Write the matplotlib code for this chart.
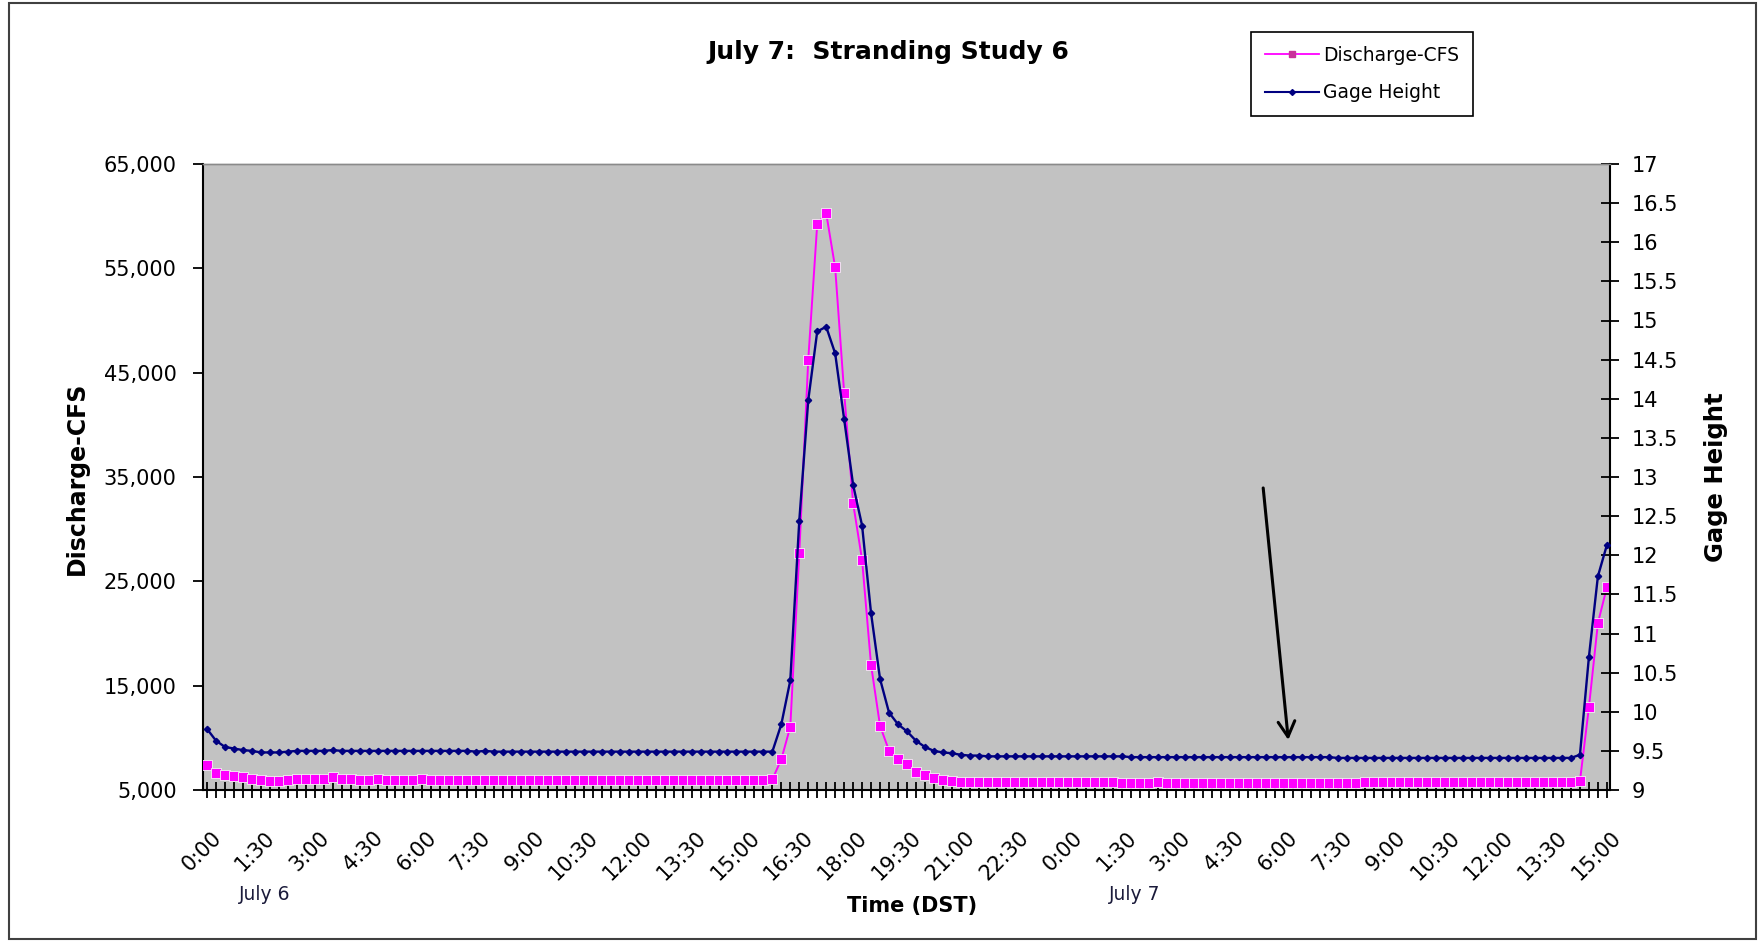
import matplotlib
matplotlib.use("Agg")
import matplotlib.pyplot as plt
import matplotlib.transforms as mtransforms
from matplotlib.lines import Line2D
from matplotlib.patches import Rectangle
from matplotlib.ticker import FuncFormatter
import numpy as np

plt.rcParams['font.family'] = ['DejaVu Sans']

# 15-minute readings, 0:00 July 6 through 15:00 July 7 (one row = 3 hours)
discharge_cfs = [
    7400, 6650, 6450, 6300, 6200, 6050, 5950, 5900, 5900, 6000, 6050, 6050,
    6050, 6050, 6250, 6050, 6050, 6000, 6000, 6050, 6000, 6000, 6000, 6000,
    6050, 6000, 6000, 6000, 6000, 6000, 6000, 6000, 5950, 5950, 6000, 6000,
    5950, 5950, 5950, 6000, 5950, 5950, 5950, 5950, 5950, 5950, 5950, 6000,
    5950, 5950, 5950, 5950, 5950, 5950, 5950, 5950, 5950, 5950, 5950, 5950,
    5950, 5950, 5950, 6020, 7940, 11070, 27690, 46230, 59240, 60290, 55080, 43090,
    32490, 27050, 16980, 11160, 8770, 7940, 7490, 6750, 6440, 6120, 5950, 5850,
    5800, 5750, 5750, 5750, 5750, 5750, 5750, 5750, 5750, 5750, 5750, 5750,
    5750, 5800, 5750, 5750, 5750, 5750, 5700, 5700, 5700, 5700, 5750, 5700,
    5700, 5700, 5700, 5700, 5700, 5700, 5700, 5700, 5700, 5700, 5700, 5700,
    5700, 5700, 5700, 5700, 5700, 5700, 5700, 5700, 5700, 5750, 5750, 5750,
    5750, 5750, 5750, 5750, 5750, 5750, 5750, 5750, 5750, 5750, 5750, 5750,
    5750, 5750, 5750, 5750, 5750, 5750, 5750, 5750, 5750, 5850, 12930, 20980,
    24430,
]

gage_height = [
    9.78, 9.63, 9.55, 9.53, 9.51, 9.50, 9.48, 9.48, 9.48, 9.49, 9.50, 9.50,
    9.50, 9.50, 9.51, 9.50, 9.50, 9.50, 9.50, 9.50, 9.50, 9.50, 9.50, 9.50,
    9.50, 9.50, 9.50, 9.50, 9.50, 9.50, 9.49, 9.50, 9.49, 9.49, 9.49, 9.49,
    9.49, 9.49, 9.49, 9.49, 9.49, 9.49, 9.49, 9.49, 9.49, 9.49, 9.49, 9.49,
    9.49, 9.49, 9.49, 9.49, 9.49, 9.49, 9.49, 9.49, 9.49, 9.49, 9.49, 9.49,
    9.49, 9.49, 9.49, 9.49, 9.84, 10.40, 12.44, 13.98, 14.86, 14.92, 14.58, 13.74,
    12.90, 12.38, 11.26, 10.42, 9.99, 9.84, 9.75, 9.63, 9.55, 9.50, 9.48, 9.47,
    9.45, 9.44, 9.44, 9.43, 9.43, 9.43, 9.43, 9.43, 9.43, 9.43, 9.43, 9.43,
    9.43, 9.43, 9.43, 9.43, 9.43, 9.43, 9.43, 9.42, 9.42, 9.42, 9.42, 9.42,
    9.42, 9.42, 9.42, 9.42, 9.42, 9.42, 9.42, 9.42, 9.42, 9.42, 9.42, 9.42,
    9.42, 9.42, 9.42, 9.42, 9.42, 9.42, 9.41, 9.41, 9.41, 9.41, 9.41, 9.41,
    9.41, 9.41, 9.41, 9.41, 9.41, 9.41, 9.41, 9.41, 9.41, 9.41, 9.41, 9.41,
    9.41, 9.41, 9.41, 9.41, 9.41, 9.41, 9.41, 9.41, 9.41, 9.45, 10.70, 11.73,
    12.13,
]

time_labels = [
    "0:00", "1:30", "3:00", "4:30", "6:00", "7:30", "9:00", "10:30", "12:00",
    "13:30", "15:00", "16:30", "18:00", "19:30", "21:00", "22:30",
    "0:00", "1:30", "3:00", "4:30", "6:00", "7:30", "9:00", "10:30", "12:00",
    "13:30", "15:00",
]
label_step = 6  # one label every 1.5 hours

cfs_ticks = [5000, 15000, 25000, 35000, 45000, 55000, 65000]
gage_ticks = [9, 9.5, 10, 10.5, 11, 11.5, 12, 12.5, 13, 13.5, 14, 14.5,
              15, 15.5, 16, 16.5, 17]

W, H = 1763, 944
fig = plt.figure(figsize=(W / 100, H / 100), dpi=100, facecolor='white')


def fx(px):
    return px / W


def fy(py):
    return 1 - py / H


ax = fig.add_axes([fx(203), fy(790), fx(1610) - fx(203), fy(164) - fy(790)])
ax.set_facecolor('#C2C2C2')

x = np.arange(len(discharge_cfs))
ax.plot(x, discharge_cfs, color='#FF00FF', lw=1.4, marker='s', ms=6.5,
        mfc='#FF00FF', mec='#F4F4F4', mew=0.6, zorder=3)
ax.set_xlim(-0.45, 156.35)
ax.set_ylim(cfs_ticks[0], cfs_ticks[-1])
ax.set_yticks(cfs_ticks)
ax.yaxis.set_major_formatter(FuncFormatter(lambda v, p: f'{int(v):,}'))

ax.set_xticks(x[::label_step])
ax.set_xticks(x, minor=True)
ax.set_xticklabels(time_labels, rotation=45, ha='right', va='top',
                   rotation_mode='anchor', fontsize=15)
ax.tick_params(axis='x', which='both', direction='inout', length=12,
               width=1.3, color='black', pad=21)
ax.tick_params(axis='y', direction='out', length=7, width=1.3,
               labelsize=15, pad=12)

ax2 = ax.twinx()
ax2.plot(x, gage_height, color='#000080', lw=1.7, marker='D', ms=3.2,
         mfc='#000080', mec='#000080', zorder=4)
ax2.set_ylim(gage_ticks[0], gage_ticks[-1])
ax2.set_yticks(gage_ticks)
ax2.yaxis.set_major_formatter(FuncFormatter(lambda v, p: f'{v:g}'))
ax2.tick_params(axis='y', direction='inout', length=13, width=1.3,
                labelsize=15, pad=9)

for a in (ax, ax2):
    a.spines['top'].set_color('#8A8A8A')
    a.spines['top'].set_linewidth(1.0)
ax.spines['left'].set_linewidth(1.5)
ax.spines['bottom'].set_linewidth(1.5)
ax.spines['right'].set_visible(False)
ax2.spines['left'].set_visible(False)
ax2.spines['bottom'].set_visible(False)
ax2.spines['right'].set_linewidth(1.5)

# nudge the slanted time labels to the right of their ticks
shift = mtransforms.ScaledTranslation(4 / 100, 0, fig.dpi_scale_trans)
for lbl in ax.get_xticklabels():
    lbl.set_transform(lbl.get_transform() + shift)

# arrow pointing at the stranding period
ax2.annotate('', xy=(120.5, 9.64), xytext=(117.7, 12.86),
             arrowprops=dict(arrowstyle='->,head_length=0.55,head_width=0.3',
                             lw=2.2, color='black', mutation_scale=20,
                             shrinkA=0, shrinkB=0), zorder=6)

fig.text(fx(888), fy(52), 'July 7:  Stranding Study 6', ha='center',
         va='center', fontsize=18, fontweight='bold')
fig.text(fx(77), fy(478), 'Discharge-CFS', rotation=90, ha='center',
         va='center', fontsize=17, fontweight='bold')
fig.text(fx(1716), fy(477), 'Gage Height', rotation=90, ha='center',
         va='center', fontsize=17.5, fontweight='bold')
fig.text(fx(912), fy(906), 'Time (DST)', ha='center', va='center',
         fontsize=15, fontweight='bold')
fig.text(fx(265), fy(895), 'July 6', ha='center', va='center',
         fontsize=13.5, color='#1a1a3a')
fig.text(fx(1135), fy(895), 'July 7', ha='center', va='center',
         fontsize=13.5, color='#1a1a3a')

handles = [
    Line2D([], [], color='#FF00FF', lw=1.3, marker='s', ms=5,
           mfc='#C8329A', mec='#C8329A'),
    Line2D([], [], color='#000080', lw=1.5, marker='D', ms=3,
           mfc='#000080', mec='#000080'),
]
leg = fig.legend(handles, ['Discharge-CFS', 'Gage Height'], loc='upper left',
                 bbox_to_anchor=(fx(1251), fy(31.5)), borderaxespad=0,
                 frameon=True, fancybox=False, edgecolor='black',
                 facecolor='white', fontsize=13.5, handlelength=2.9,
                 handletextpad=0.2, borderpad=0.75, labelspacing=1.0,
                 framealpha=1)
leg.get_frame().set_linewidth(1.2)

fig.patches.append(Rectangle((fx(9), fy(939)), fx(1756) - fx(9),
                             fy(3) - fy(939), transform=fig.transFigure,
                             fill=False, edgecolor='#404040', lw=1.5))

fig.savefig('out.png', dpi=100, facecolor='white')
